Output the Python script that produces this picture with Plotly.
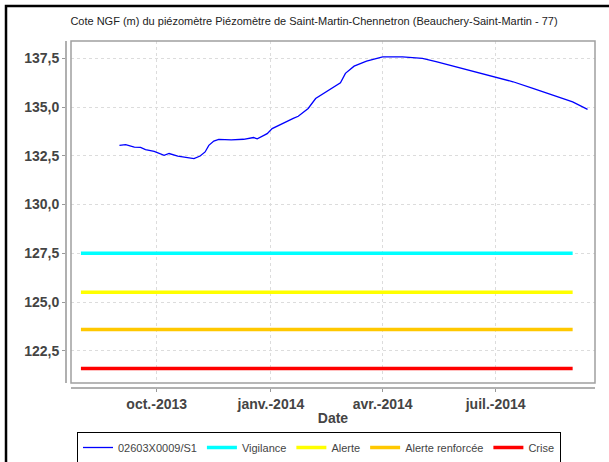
import plotly.graph_objects as go

# Mesures du piézomètre (dates, cote NGF en m)
dates_mesure = [
    "2013-09-01", "2013-09-06", "2013-09-13", "2013-09-18", "2013-09-22",
    "2013-09-29", "2013-10-07", "2013-10-11", "2013-10-18", "2013-10-26",
    "2013-10-31", "2013-11-05", "2013-11-09", "2013-11-12", "2013-11-16",
    "2013-11-20", "2013-11-30", "2013-12-10", "2013-12-18", "2013-12-21",
    "2013-12-29", "2014-01-02", "2014-01-11", "2014-01-19", "2014-01-23",
    "2014-01-31", "2014-02-06", "2014-02-14", "2014-02-21", "2014-02-26",
    "2014-03-02", "2014-03-09", "2014-03-19", "2014-04-01", "2014-04-17",
    "2014-05-03", "2014-05-14", "2014-05-30", "2014-06-10", "2014-06-29",
    "2014-07-15", "2014-07-31", "2014-08-16", "2014-09-01", "2014-09-13",
]
cote_mesure = [
    133.04, 133.08, 132.95, 132.93, 132.82,
    132.73, 132.53, 132.62, 132.49, 132.41,
    132.36, 132.49, 132.70, 133.04, 133.26,
    133.34, 133.32, 133.35, 133.44, 133.37,
    133.64, 133.90, 134.19, 134.42, 134.53,
    134.93, 135.44, 135.78, 136.08, 136.25,
    136.73, 137.10, 137.36, 137.58, 137.58,
    137.50, 137.33, 137.07, 136.86, 136.59,
    136.30, 135.96, 135.61, 135.27, 134.88,
]

# Seuils
dates_seuil = ["2013-08-01", "2014-09-01"]
seuil_noms = ["Vigilance", "Alerte", "Alerte renforcée", "Crise"]
seuil_valeurs = [127.5, 125.5, 123.6, 121.6]
seuil_couleurs = ["#00ffff", "#ffff00", "#ffc800", "#ff0000"]

tick_dates = ["2013-10-01", "2014-01-01", "2014-04-01", "2014-07-01"]
tick_labels = ["oct.-2013", "janv.-2014", "avr.-2014", "juil.-2014"]
y_ticks = [122.5, 125.0, 127.5, 130.0, 132.5, 135.0, 137.5]

FONT = "Liberation Sans, Arial, sans-serif"

fig = go.Figure()
fig.add_trace(go.Scatter(
    x=dates_mesure, y=cote_mesure, mode="lines", name="02603X0009/S1",
    line=dict(color="#0000ff", width=1.3),
))
for nom, val, coul in zip(seuil_noms, seuil_valeurs, seuil_couleurs):
    fig.add_trace(go.Scatter(
        x=dates_seuil, y=[val, val], mode="lines", name=nom,
        line=dict(color=coul, width=3.5),
    ))

fig.update_layout(
    width=609, height=462,
    margin=dict(l=66, r=14, t=41, b=74, autoexpand=False),
    paper_bgcolor="white", plot_bgcolor="white",
    separators=", ",
    font=dict(family=FONT, color="#444444"),
    title=dict(
        text="Cote NGF (m) du piézomètre Piézomètre de Saint-Martin-Chennetron (Beauchery-Saint-Martin - 77)",
        x=314 / 609, xanchor="center", y=1 - 21 / 462, yanchor="middle",
        font=dict(size=11, color="#222222", family=FONT),
    ),
    showlegend=True,
    legend=dict(
        orientation="h", xref="container", yref="container",
        x=319 / 609, xanchor="center", y=1 - 432 / 462, yanchor="top",
        bordercolor="#000000", borderwidth=1, bgcolor="white",
        font=dict(size=11, color="#444444"), itemwidth=30,
        tracegroupgap=0,
    ),
    xaxis=dict(
        domain=[5 / 529, 1], anchor="free", position=0, automargin=False,
        range=["2013-07-24", "2014-09-19"],
        tickvals=tick_dates, ticktext=tick_labels,
        tickfont=dict(size=14, color="#444444", family=FONT, weight="bold"),
        ticks="outside", ticklen=3, tickcolor="#999999",
        showline=True, linecolor="#b0b0b0", linewidth=2,
        showgrid=True, gridcolor="#dcdcdc", griddash="dot", gridwidth=1,
        zeroline=False,
        title=dict(text="Date", standoff=1,
                   font=dict(size=14, color="#444444", family=FONT, weight="bold")),
    ),
    yaxis=dict(
        domain=[5 / 347, 1], anchor="free", position=0, automargin=False,
        range=[120.85, 138.39],
        tickvals=y_ticks, tickformat=".1f",
        tickfont=dict(size=14, color="#444444", family=FONT, weight="bold"),
        ticks="outside", ticklen=3, tickcolor="#999999",
        showline=True, linecolor="#b0b0b0", linewidth=2,
        showgrid=True, gridcolor="#dcdcdc", griddash="dot", gridwidth=1,
        zeroline=False,
    ),
)

# cadre de la zone de tracé
fig.add_shape(type="rect", xref="x domain", yref="y domain",
              x0=0, x1=1, y0=0, y1=1, line=dict(color="#a0a0a0", width=1.5),
              layer="above")
# bordure noire de l'image
fig.add_shape(type="path", xref="paper", yref="paper",
              path="M -0.1134,-0.4 L -0.1134,1.1009 L 1.2,1.1009",
              line=dict(color="black", width=2.5))

# la page ne doit pas décaler la figure
fig.write_html("out.html", config={"displayModeBar": False},
               post_script="document.body.style.margin='0';")
